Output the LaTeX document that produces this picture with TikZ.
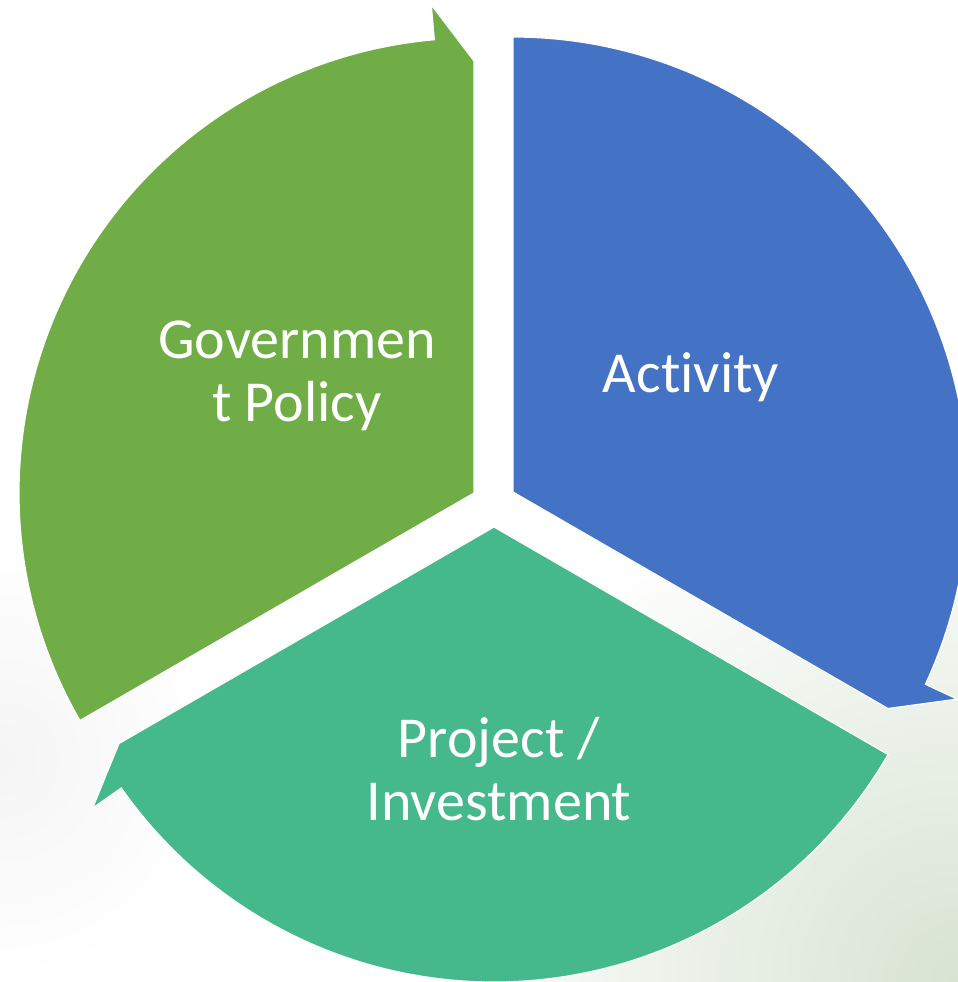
\documentclass[tikz,border=0pt]{standalone}
\usepackage{fontspec}
\setmainfont{Carlito}[Ligatures=NoCommon]
\usetikzlibrary{calc}
\definecolor{segGreen}{HTML}{70AD47}
\definecolor{segBlue}{HTML}{4472C4}
\definecolor{segTeal}{HTML}{45B88C}
\definecolor{bgSage}{RGB}{216,227,210}
\begin{document}
\begin{tikzpicture}[x=0.5pt,y=0.5pt,
  segment/.style={draw=white,line width=0.6pt,line join=miter},
  segtext/.style={text=white,inner sep=0pt,anchor=base,font=\fontsize{29pt}{31.5pt}\selectfont}]
\useasboundingbox (0,0) rectangle (958,-982);
\fill[white] (0,0) rectangle (958,-982);
\begin{scope}
  \clip (0,0) rectangle (958,-982);
  \shade[inner color=bgSage,outer color=white] (958,-982) circle[radius=270pt];
  \shade[inner color=black!4,outer color=white] (0,-760) circle[radius=110pt];
\end{scope}
% apexes of the three segments
\coordinate (G) at (474,-493);
\coordinate (B) at (513,-492);
\coordinate (T) at (494,-527);
% Government Policy (green), arrow at its top end
\filldraw[segment,fill=segGreen] (G) -- ($(G)+(90:432)$) -- ($(G)+(95:490)$) -- ($(G)+(95:455)$)
  arc[start angle=95,end angle=210,radius=227.5pt] -- cycle;
% Activity (blue), arrow at its lower end
\filldraw[segment,fill=segBlue] (B) -- ($(B)+(90:455)$)
  arc[start angle=90,end angle=-25,radius=227.5pt] -- ($(B)+(-25:490)$) -- ($(B)+(-30:433)$) -- cycle;
% Project / Investment (teal), arrow at its left end
\filldraw[segment,fill=segTeal] (T) -- ($(T)+(-30:455)$)
  arc[start angle=-30,end angle=-145,radius=227.5pt] -- ($(T)+(-145:490)$) -- ($(T)+(210:433)$) -- cycle;
% labels
\node[segtext] (gov) at (297,-358) {\begin{tabular}[t]{@{}c@{}}Governmen\\t Policy\end{tabular}};
\node[segtext] (act) at (691,-392) {Activity};
\node[segtext] (proj) at (499,-757) {\begin{tabular}[t]{@{}c@{}}Project /\\Investment\end{tabular}};
\end{tikzpicture}
\end{document}
